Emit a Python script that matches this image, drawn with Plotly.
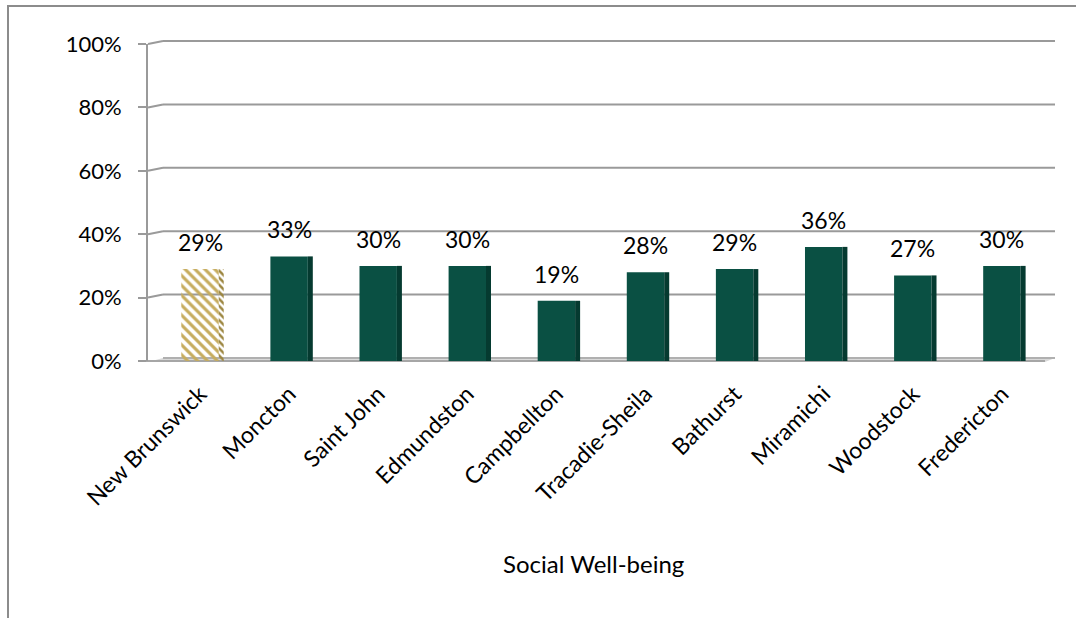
import plotly.graph_objects as go

# Social well-being share by community
categories = ["New Brunswick", "Moncton", "Saint John", "Edmundston", "Campbellton",
              "Tracadie-Sheila", "Bathurst", "Miramichi", "Woodstock", "Fredericton"]
values = [29, 33, 30, 30, 19, 28, 29, 36, 27, 30]
y_ticks = [0, 20, 40, 60, 80, 100]
x_title = "Social Well-being"

FONT = "Lato, 'Open Sans', sans-serif"
GREEN = "#0A5043"
GREEN_SIDE = "#053A30"
GOLD = "#C6AC5E"
GOLD_SIDE = "#9C8640"
GRID = "#9A9A9A"

W, H = 1076, 618
ML, MR, MT, MB = 148, 21, 44, 257
plot_w = W - ML - MR
plot_h = H - MT - MB
step_px = 89.1                       # pixels per category
x0 = -(200 - ML) / step_px
x1 = x0 + plot_w / step_px


def yp(v):
    """y data value (percent) -> paper fraction"""
    return v / 100.0


def dx(p):
    return p / plot_w               # pixel length -> paper x


def dy(p):
    return p / plot_h               # pixel length -> paper y


pos = list(range(len(categories)))
bar_w = 0.42
side_w = 5 / step_px

fig = go.Figure()

# front faces
fig.add_trace(go.Bar(
    x=pos, y=values, width=bar_w,
    marker=dict(
        color=[GOLD if i == 0 else GREEN for i in pos],
        line=dict(width=0),
        pattern=dict(shape=["\\"] + [""] * (len(pos) - 1),
                     fgcolor=GOLD, bgcolor="#FFFDF2", size=7, solidity=0.45,
                     fillmode="replace"),
    ),
    hoverinfo="skip", showlegend=False,
))

# right-hand side faces for the 3D look
fig.add_trace(go.Bar(
    x=[p + bar_w / 2 + side_w / 2 for p in pos], y=values, width=side_w,
    marker=dict(
        color=[GOLD_SIDE if i == 0 else GREEN_SIDE for i in pos],
        line=dict(width=0),
        pattern=dict(shape=["\\"] + [""] * (len(pos) - 1),
                     fgcolor=GOLD_SIDE, bgcolor="#E8DDB5", size=5, solidity=0.5,
                     fillmode="replace"),
    ),
    hoverinfo="skip", showlegend=False,
))

shapes = []
gx0 = 0.0
gx1 = 1.0
ddx = dx(15)
ddy = dy(3)
# back-wall gridlines with the short receding stub from the axis
for v in y_ticks[1:]:
    shapes.append(dict(type="line", xref="paper", yref="paper", layer="below",
                       x0=gx0 + ddx, x1=gx1, y0=yp(v) + ddy, y1=yp(v) + ddy,
                       line=dict(color=GRID, width=2)))
    shapes.append(dict(type="line", xref="paper", yref="paper", layer="below",
                       x0=gx0, x1=gx0 + ddx, y0=yp(v), y1=yp(v) + ddy,
                       line=dict(color=GRID, width=2)))
# floor
shapes.append(dict(type="path", xref="paper", yref="paper", layer="below",
                   path=f"M {gx0},{-dy(1)} L {gx1 - dx(10)},{-dy(1)} L {gx1},{ddy} "
                        f"L {gx0 + ddx},{ddy} Z",
                   fillcolor="#D9D9D9", line=dict(width=0)))
shapes.append(dict(type="line", xref="paper", yref="paper", layer="below",
                   x0=gx0 - dx(8), x1=gx1 - dx(10), y0=0, y1=0,
                   line=dict(color="#A6A6A6", width=2)))
shapes.append(dict(type="line", xref="paper", yref="paper", layer="below",
                   x0=gx0 + ddx, x1=gx1, y0=ddy, y1=ddy,
                   line=dict(color="#B0B0B0", width=2)))
# outer chart border
bx0 = (8 - ML) / plot_w
by1 = (H - MB - 6) / plot_h
shapes.append(dict(type="path", xref="paper", yref="paper",
                   path=f"M {bx0},{-1.0} L {bx0},{by1} L {1.1},{by1}",
                   line=dict(color="#8C8C8C", width=2)))

annotations = []
for p, v in zip(pos, values):
    annotations.append(dict(x=p, y=v, xref="x", yref="y", text=f"{v}%",
                            showarrow=False, yanchor="bottom", yshift=11,
                            font=dict(family=FONT, size=23, color="#000000")))
annotations.append(dict(x=(593 - ML) / plot_w, y=(H - MB - 563) / plot_h,
                        xref="paper", yref="paper", text=x_title, showarrow=False,
                        xanchor="center", yanchor="middle",
                        font=dict(family=FONT, size=24, color="#000000")))

fig.update_layout(
    width=W, height=H,
    margin=dict(l=ML, r=MR, t=MT, b=MB),
    paper_bgcolor="white", plot_bgcolor="rgba(0,0,0,0)",
    barmode="overlay",
    shapes=shapes, annotations=annotations,
    font=dict(family=FONT, color="#000000"),
)
fig.update_xaxes(
    range=[x0, x1], tickmode="array", tickvals=pos, ticktext=categories,
    tickangle=-45, tickfont=dict(family=FONT, size=23, color="#000000"),
    showgrid=False, zeroline=False, showline=False, ticks="",
    ticklabelstandoff=14,
)
fig.update_yaxes(
    range=[0, 100], tickmode="array", tickvals=y_ticks,
    ticktext=[f"{t}%" for t in y_ticks],
    tickfont=dict(family=FONT, size=22, color="#000000"),
    showgrid=False, zeroline=False, showline=True, linecolor=GRID, linewidth=2,
    ticks="outside", ticklen=8, tickcolor=GRID, tickwidth=2,
    ticklabelstandoff=12,
)

fig.write_html("out.html")
